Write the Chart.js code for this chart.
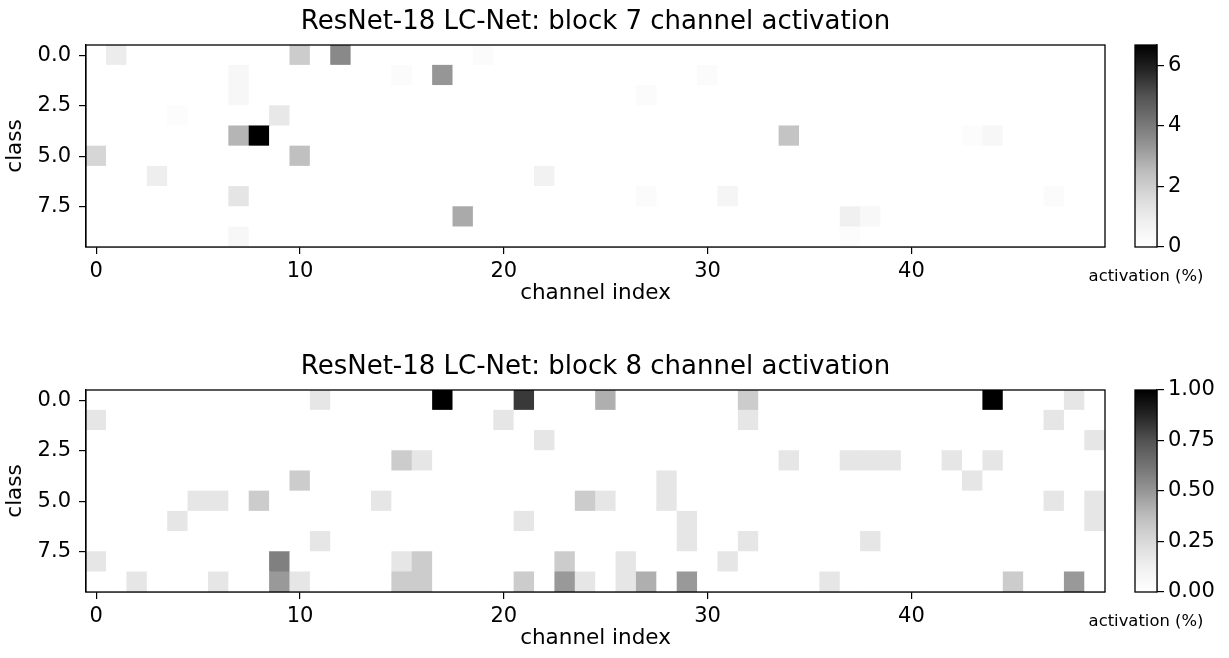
<!DOCTYPE html>
<html>
<head>
<meta charset="utf-8">
<script src="https://cdn.jsdelivr.net/npm/chart.js@4.4.1/dist/chart.umd.min.js"></script>
<style>
  html, body { margin: 0; padding: 0; background: #fff; }
  #wrap { position: relative; width: 1229px; height: 658px; overflow: hidden; }
  canvas { position: absolute; }
</style>
</head>
<body>
<div id="wrap">
  <canvas id="heat7" width="1120" height="310" style="left:0;top:0"></canvas>
  <canvas id="cbar7" width="149" height="290" style="left:1080px;top:0"></canvas>
  <canvas id="heat8" width="1120" height="310" style="left:0;top:345px"></canvas>
  <canvas id="cbar8" width="149" height="290" style="left:1080px;top:345px"></canvas>
</div>
<script>
const CLASSES = 10;
const CHANNELS = 50;
const xTicks = [0, 10, 20, 30, 40];
const yTicks = [0, 2.5, 5, 7.5];

// [class, channel, activation %] -- cells not listed are 0
const block7Cells = [
  [0, 1, 0.98], [0, 10, 2.05], [0, 12, 3.65], [0, 19, 0.2],
  [1, 7, 0.45], [1, 15, 0.25], [1, 17, 3.33], [1, 30, 0.2],
  [2, 7, 0.45], [2, 27, 0.25],
  [3, 4, 0.17], [3, 9, 1.12],
  [4, 7, 2.67], [4, 8, 6.67], [4, 34, 2.3], [4, 43, 0.17], [4, 44, 0.45],
  [5, 0, 1.75], [5, 10, 2.4],
  [6, 3, 0.9], [6, 22, 0.72],
  [7, 7, 1.23], [7, 27, 0.2], [7, 31, 0.55], [7, 47, 0.2],
  [8, 18, 2.9], [8, 37, 0.83], [8, 38, 0.4],
  [9, 7, 0.45], [9, 37, 0.17]
];
const block7Max = 6.67;
const block7BarTicks = [0, 2, 4, 6];

const block8Cells = [
  [0, 11, 0.18], [0, 17, 1.0], [0, 21, 0.82], [0, 25, 0.42], [0, 32, 0.31], [0, 44, 1.0], [0, 48, 0.18],
  [1, 0, 0.18], [1, 20, 0.18], [1, 32, 0.18], [1, 47, 0.18],
  [2, 22, 0.18], [2, 49, 0.18],
  [3, 15, 0.31], [3, 16, 0.18], [3, 34, 0.18], [3, 37, 0.18], [3, 38, 0.18], [3, 39, 0.18], [3, 42, 0.18], [3, 44, 0.18],
  [4, 10, 0.31], [4, 28, 0.18], [4, 43, 0.18],
  [5, 5, 0.18], [5, 6, 0.18], [5, 8, 0.31], [5, 14, 0.18], [5, 24, 0.31], [5, 25, 0.18], [5, 28, 0.18], [5, 47, 0.18], [5, 49, 0.18],
  [6, 4, 0.18], [6, 21, 0.18], [6, 29, 0.18], [6, 49, 0.18],
  [7, 11, 0.18], [7, 29, 0.18], [7, 32, 0.18], [7, 38, 0.18],
  [8, 0, 0.18], [8, 9, 0.58], [8, 15, 0.18], [8, 16, 0.31], [8, 23, 0.31], [8, 26, 0.18], [8, 31, 0.18],
  [9, 2, 0.18], [9, 6, 0.18], [9, 9, 0.49], [9, 10, 0.18], [9, 15, 0.31], [9, 16, 0.31], [9, 21, 0.31],
  [9, 23, 0.49], [9, 24, 0.18], [9, 26, 0.18], [9, 27, 0.42], [9, 29, 0.49], [9, 36, 0.18], [9, 45, 0.31], [9, 48, 0.49]
];
const block8Max = 1.0;
const block8BarTicks = [0, 0.25, 0.5, 0.75, 1.0];

// matplotlib "Greys" colour map
const GREYS = [255, 240, 217, 189, 150, 115, 82, 37, 0];

function grey(t) {
  t = Math.max(0, Math.min(1, t));
  const p = t * 8;
  const i = Math.min(7, Math.floor(p));
  const g = Math.round(GREYS[i] + (GREYS[i + 1] - GREYS[i]) * (p - i));
  return 'rgb(' + g + ',' + g + ',' + g + ')';
}

Chart.defaults.font.family = 'DejaVu Sans';
Chart.defaults.color = '#000';

const TICK_FONT = { size: 21 };
const LABEL_FONT = { size: 21.5 };

const frame = {
  id: 'frame',
  afterDatasetsDraw(chart) {
    const { ctx, chartArea: a } = chart;
    ctx.save();
    ctx.strokeStyle = '#000';
    ctx.lineWidth = 1.3;
    ctx.strokeRect(a.left, a.top, a.right - a.left, a.bottom - a.top);
    ctx.restore();
  }
};

const tickGrid = { display: true, offset: false, drawOnChartArea: false, drawTicks: true, tickLength: 7, color: '#000', lineWidth: 1.2 };
const axisBorder = { display: true, color: '#000', width: 1.3 };

function heatmap(id, title, cells, vmax) {
  const lookup = {};
  cells.forEach(([r, c, v]) => { lookup[r + ',' + c] = v; });
  const points = [];
  const colors = [];
  for (let r = 0; r < CLASSES; r++) {
    for (let c = 0; c < CHANNELS; c++) {
      const v = lookup[r + ',' + c] || 0;
      points.push({ x: c, y: [r - 0.5, r + 0.5] });
      colors.push(grey(v / vmax));
    }
  }

  new Chart(document.getElementById(id), {
    type: 'bar',
    data: {
      datasets: [{
        data: points,
        backgroundColor: colors,
        borderWidth: 0,
        barPercentage: 1,
        categoryPercentage: 1
      }]
    },
    options: {
      responsive: false,
      animation: false,
      events: [],
      layout: { padding: { left: 0, right: 15, top: 0, bottom: 0 } },
      plugins: { legend: { display: false }, tooltip: { enabled: false } },
      scales: {
        x: {
          type: 'linear',
          min: -0.5,
          max: CHANNELS - 0.5,
          offset: false,
          afterBuildTicks: s => { s.ticks = xTicks.map(v => ({ value: v })); },
          afterFit: s => { s.height = 63; },
          grid: tickGrid,
          border: axisBorder,
          ticks: { font: TICK_FONT, padding: 5, maxRotation: 0 },
          title: { display: true, text: 'channel index', font: LABEL_FONT, padding: { top: 0, bottom: 4 } }
        },
        // empty top axis used only to centre the title over the plot area
        top: {
          axis: 'x',
          type: 'linear',
          position: 'top',
          min: 0,
          max: 1,
          afterFit: s => { s.height = 45; },
          grid: { display: false, drawTicks: false },
          border: { display: false },
          ticks: { display: false },
          title: { display: true, text: title, font: { size: 26 }, padding: { top: 7, bottom: 0 } }
        },
        y: {
          type: 'linear',
          reverse: true,
          min: -0.5,
          max: CLASSES - 0.5,
          afterBuildTicks: s => { s.ticks = yTicks.map(v => ({ value: v })); },
          afterFit: s => { s.width = 86; },
          grid: tickGrid,
          border: axisBorder,
          ticks: { font: TICK_FONT, padding: 8, callback: v => v.toFixed(1) },
          title: { display: true, text: 'class', font: LABEL_FONT, padding: { top: 3, bottom: 0 } }
        }
      }
    },
    plugins: [frame]
  });
}

function colorbar(id, vmax, barTicks, digits) {
  new Chart(document.getElementById(id), {
    type: 'bar',
    data: {
      labels: ['activation (%)'],
      datasets: [{
        data: [[0, vmax]],
        backgroundColor: ctx => {
          const a = ctx.chart.chartArea;
          if (!a) return '#888';
          const g = ctx.chart.ctx.createLinearGradient(0, a.bottom, 0, a.top);
          GREYS.forEach((v, i) => g.addColorStop(i / 8, 'rgb(' + v + ',' + v + ',' + v + ')'));
          return g;
        },
        borderWidth: 0,
        barPercentage: 1,
        categoryPercentage: 1
      }]
    },
    options: {
      responsive: false,
      animation: false,
      events: [],
      layout: { padding: { left: 55, right: 0, top: 45, bottom: 0 } },
      plugins: { legend: { display: false }, tooltip: { enabled: false } },
      scales: {
        x: {
          afterFit: s => { s.height = 43; s.paddingLeft = 0; s.paddingRight = 0; },
          grid: { display: false, drawTicks: false },
          border: { display: false },
          ticks: { font: { size: 16.4 }, padding: 20, maxRotation: 0, minRotation: 0, autoSkip: false }
        },
        y: {
          position: 'right',
          min: 0,
          max: vmax,
          afterBuildTicks: s => { s.ticks = barTicks.map(v => ({ value: v })); },
          afterFit: s => { s.width = 72; s.paddingTop = 0; s.paddingBottom = 0; },
          grid: tickGrid,
          border: axisBorder,
          ticks: { font: TICK_FONT, padding: 4, callback: v => v.toFixed(digits) }
        }
      }
    },
    plugins: [frame]
  });
}

heatmap('heat7', 'ResNet-18 LC-Net: block 7 channel activation', block7Cells, block7Max);
colorbar('cbar7', block7Max, block7BarTicks, 0);
heatmap('heat8', 'ResNet-18 LC-Net: block 8 channel activation', block8Cells, block8Max);
colorbar('cbar8', block8Max, block8BarTicks, 2);
</script>
</body>
</html>
